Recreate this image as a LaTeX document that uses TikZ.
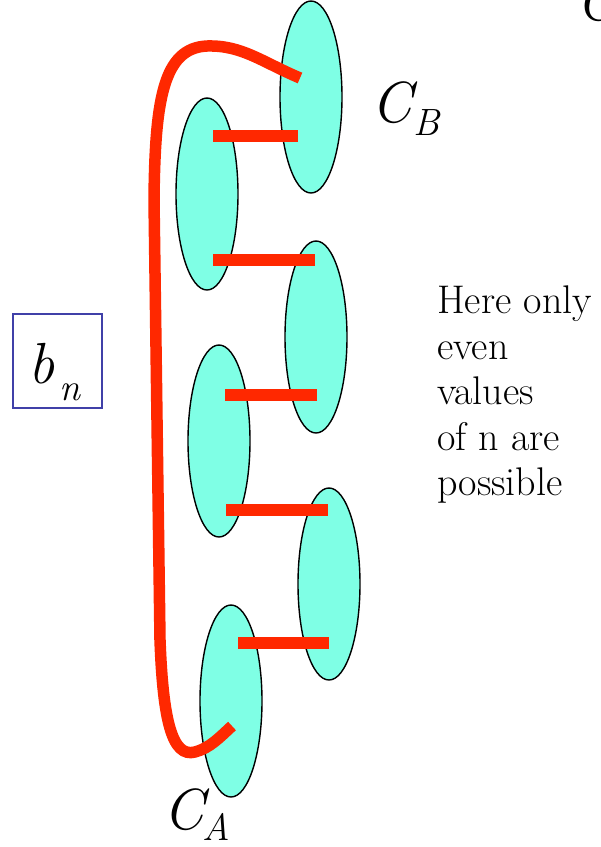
\documentclass[tikz,border=0pt]{standalone}
\usepackage{fontspec}
\usetikzlibrary{shapes.geometric}
\definecolor{cellfill}{RGB}{127,255,229}
\definecolor{linkred}{RGB}{255,40,0}
\definecolor{boxblue}{RGB}{64,64,168}
\tikzset{
  cell/.style={ellipse, draw=black, line width=1.4pt, fill=cellfill, minimum width=62pt, minimum height=192pt, inner sep=0pt},
  link/.style={draw=linkred, line width=11.5pt},
  bigfont/.style={inner sep=0pt, font=\rmfamily\fontsize{58}{58}\selectfont\itshape\addfontfeature{FakeBold=0.6}},
  subfont/.style={inner sep=0pt, font=\rmfamily\fontsize{38}{38}\selectfont\itshape\addfontfeature{FakeBold=0.6}},
}
\begin{document}
\begin{tikzpicture}[x=1pt,y=-1pt]
\useasboundingbox (0,0) rectangle (601,847);
% clusters
\node[cell] (e1) at (311,97) {};
\node[cell] (e2) at (207,194) {};
\node[cell] (e3) at (316,337) {};
\node[cell] (e4) at (219,441) {};
\node[cell] (e5) at (329,584) {};
\node[cell] (e6) at (231,701) {};
% bar end points
\coordinate (b1l) at (213,136); \coordinate (b1r) at (298,136);
\coordinate (b2l) at (213,260); \coordinate (b2r) at (315,260);
\coordinate (b3l) at (225,395); \coordinate (b3r) at (317,395);
\coordinate (b4l) at (226,510); \coordinate (b4r) at (328,510);
\coordinate (b5l) at (238,643); \coordinate (b5r) at (329,643);
\draw[link] (b1l) -- (b1r);
\draw[link] (b2l) -- (b2r);
\draw[link] (b3l) -- (b3r);
\draw[link] (b4l) -- (b4r);
\draw[link] (b5l) -- (b5r);
% big loop
\coordinate (pB) at (300,78);
\coordinate (pA) at (232,726);
\draw[link] (pB) .. controls (262,62) and (242,45) .. (207,46)
  .. controls (163,48) and (155,100) .. (154,200)
  -- (160,640)
  .. controls (163,720) and (172,758) .. (195,752)
  .. controls (210,748) and (220,737) .. (pA);
% labels
\node[bigfont, anchor=base west] (CBc) at (371,122) {C};
\node[subfont, anchor=base west] (CBs) at (413,135) {B};
\node[bigfont, anchor=base west] (CAc) at (163,829) {C};
\node[subfont, anchor=base west] (CAs) at (202,840) {A};
\node[bigfont, anchor=base west] (Ctop) at (576,20) {C};
% b_n box
\node[draw=boxblue, line width=1.5pt, minimum width=89pt, minimum height=94pt, inner sep=0pt] (box) at (57.5,361) {};
\node[bigfont, anchor=base west] (bb) at (28,383) {b};
\node[subfont, anchor=base west] (bs) at (59,400) {n};
% side text
\node[anchor=north west, inner sep=0pt, align=left, font=\rmfamily\fontsize{40}{45.5}\selectfont\addfontfeature{FakeBold=0.6}] (note) at (437,286)
 {Here only\\even\\values\\of n are\\possible};
\end{tikzpicture}
\end{document}
